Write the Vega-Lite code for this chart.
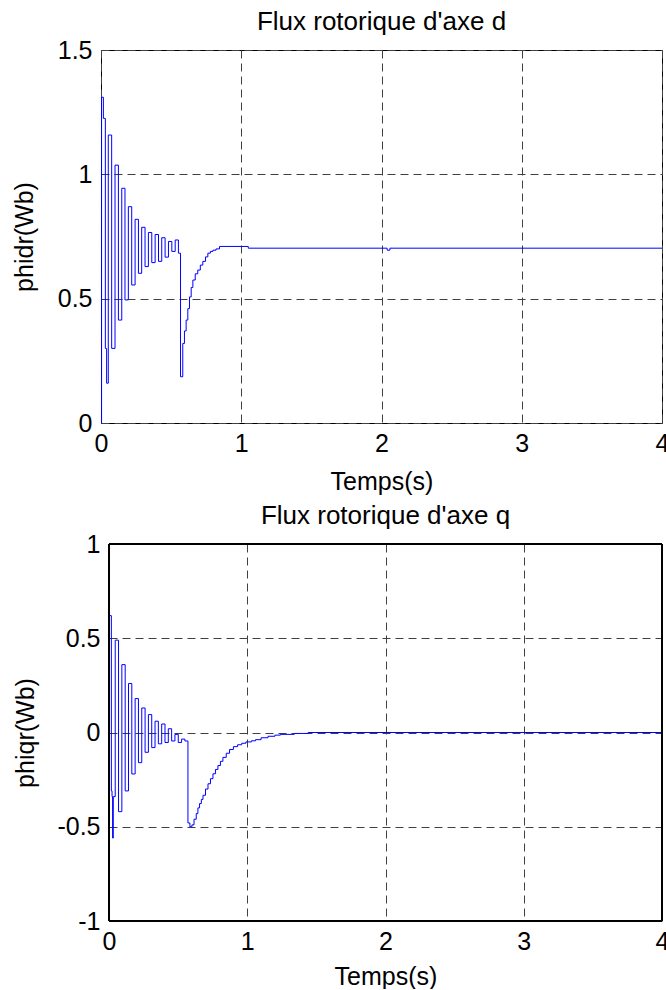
{
  "$schema": "https://vega.github.io/schema/vega-lite/v6.json",
  "background": "white",
  "padding": {"left": 11, "top": 8, "right": 0, "bottom": 0},
  "config": {
    "font": "Liberation Sans",
    "view": {"stroke": "black", "strokeWidth": 1},
    "axis": {
      "labelFont": "Liberation Sans", "labelFontSize": 25, "labelColor": "black",
      "titleFont": "Liberation Sans", "titleFontSize": 25, "titleFontWeight": "normal", "titleColor": "black",
      "ticks": false, "domain": false, "labelFlush": false,
      "gridColor": "#404040", "gridDash": [8, 5], "gridOpacity": 1, "gridWidth": 1
    },
    "title": {"font": "Liberation Sans", "fontSize": 26, "fontWeight": "normal", "color": "black"}
  },
  "datasets": {
    "d": [
      {"t": 0, "v": 0}, {"t": 0.004, "v": 1.31}, {"t": 0.017, "v": 1.225}, {"t": 0.031, "v": 0.3}, {"t": 0.04, "v": 0.16},
      {"t": 0.052, "v": 1.158}, {"t": 0.076, "v": 0.3}, {"t": 0.1, "v": 1.037}, {"t": 0.124, "v": 0.414},
      {"t": 0.148, "v": 0.944}, {"t": 0.171, "v": 0.495}, {"t": 0.195, "v": 0.87}, {"t": 0.219, "v": 0.555},
      {"t": 0.243, "v": 0.819}, {"t": 0.267, "v": 0.602}, {"t": 0.29, "v": 0.787}, {"t": 0.314, "v": 0.629},
      {"t": 0.338, "v": 0.766}, {"t": 0.362, "v": 0.645}, {"t": 0.386, "v": 0.758}, {"t": 0.41, "v": 0.65},
      {"t": 0.433, "v": 0.745}, {"t": 0.457, "v": 0.667}, {"t": 0.481, "v": 0.73}, {"t": 0.505, "v": 0.69},
      {"t": 0.529, "v": 0.736}, {"t": 0.552, "v": 0.683}, {"t": 0.567, "v": 0.186}, {"t": 0.583, "v": 0.32},
      {"t": 0.595, "v": 0.37}, {"t": 0.607, "v": 0.414}, {"t": 0.619, "v": 0.46}, {"t": 0.631, "v": 0.507},
      {"t": 0.643, "v": 0.545}, {"t": 0.655, "v": 0.575}, {"t": 0.672, "v": 0.6}, {"t": 0.69, "v": 0.615},
      {"t": 0.708, "v": 0.635}, {"t": 0.726, "v": 0.65}, {"t": 0.745, "v": 0.668}, {"t": 0.762, "v": 0.683},
      {"t": 0.78, "v": 0.69}, {"t": 0.798, "v": 0.695}, {"t": 0.82, "v": 0.7}, {"t": 0.845, "v": 0.71},
      {"t": 1.05, "v": 0.703}, {"t": 2.04, "v": 0.695}, {"t": 2.06, "v": 0.703}, {"t": 4.0, "v": 0.703}
    ],
    "q": [
      {"t": 0, "v": 0}, {"t": 0.002, "v": 0.62}, {"t": 0.017, "v": -0.31}, {"t": 0.022, "v": -0.34},
      {"t": 0.026, "v": -0.56}, {"t": 0.031, "v": -0.34}, {"t": 0.045, "v": 0.49}, {"t": 0.069, "v": -0.42},
      {"t": 0.093, "v": 0.36}, {"t": 0.117, "v": -0.31}, {"t": 0.141, "v": 0.26}, {"t": 0.165, "v": -0.22},
      {"t": 0.189, "v": 0.18}, {"t": 0.213, "v": -0.16}, {"t": 0.237, "v": 0.13}, {"t": 0.261, "v": -0.105},
      {"t": 0.285, "v": 0.095}, {"t": 0.309, "v": -0.08}, {"t": 0.333, "v": 0.06}, {"t": 0.357, "v": -0.06},
      {"t": 0.381, "v": 0.045}, {"t": 0.405, "v": -0.053}, {"t": 0.429, "v": 0.02}, {"t": 0.453, "v": -0.045},
      {"t": 0.477, "v": -0.01}, {"t": 0.501, "v": -0.053}, {"t": 0.525, "v": -0.035}, {"t": 0.549, "v": -0.045},
      {"t": 0.571, "v": -0.48}, {"t": 0.585, "v": -0.5}, {"t": 0.6, "v": -0.49}, {"t": 0.615, "v": -0.46},
      {"t": 0.631, "v": -0.43}, {"t": 0.643, "v": -0.4}, {"t": 0.655, "v": -0.377}, {"t": 0.668, "v": -0.355},
      {"t": 0.68, "v": -0.333}, {"t": 0.698, "v": -0.3}, {"t": 0.716, "v": -0.272}, {"t": 0.734, "v": -0.245},
      {"t": 0.752, "v": -0.219}, {"t": 0.77, "v": -0.196}, {"t": 0.788, "v": -0.175}, {"t": 0.806, "v": -0.153},
      {"t": 0.824, "v": -0.132}, {"t": 0.848, "v": -0.11}, {"t": 0.872, "v": -0.09}, {"t": 0.9, "v": -0.075},
      {"t": 0.93, "v": -0.065}, {"t": 0.96, "v": -0.057}, {"t": 0.99, "v": -0.05}, {"t": 1.03, "v": -0.044},
      {"t": 1.06, "v": -0.038}, {"t": 1.1, "v": -0.028}, {"t": 1.15, "v": -0.02}, {"t": 1.2, "v": -0.014},
      {"t": 1.24, "v": -0.01}, {"t": 1.34, "v": -0.005}, {"t": 1.44, "v": 0}, {"t": 4.0, "v": 0}
    ]
  },
  "spacing": 8,
  "vconcat": [
    {
      "width": 561, "height": 373,
      "title": {"text": "Flux rotorique d'axe d", "offset": 3},
      "data": {"name": "d"},
      "mark": {"type": "line", "interpolate": "step-after", "color": "#0000ff", "strokeWidth": 1},
      "encoding": {
        "x": {"field": "t", "type": "quantitative", "scale": {"domain": [0, 4], "nice": false},
              "axis": {"values": [0, 1, 2, 3, 4], "format": "~g", "title": "Temps(s)", "labelPadding": 8, "titlePadding": 13}},
        "y": {"field": "v", "type": "quantitative", "scale": {"domain": [0, 1.5], "nice": false},
              "axis": {"values": [0, 0.5, 1, 1.5], "format": "~g", "title": "phidr(Wb)", "labelPadding": 9, "titlePadding": 20}}
      }
    },
    {
      "width": 561, "height": 377,
      "view": {"stroke": null},
      "title": {"text": "Flux rotorique d'axe q", "offset": 3, "dx": 4},
      "data": {"name": "q"},
      "encoding": {
        "x": {"field": "t", "type": "quantitative", "scale": {"domain": [0, 4], "nice": false, "range": [8, 561]},
              "axis": {"values": [0, 1, 2, 3, 4], "format": "~g", "title": "Temps(s)", "labelPadding": 8, "titlePadding": 10}},
        "y": {"field": "v", "type": "quantitative", "scale": {"domain": [-1, 1], "nice": false},
              "axis": {"values": [-1, -0.5, 0, 0.5, 1], "format": "~g", "labelExpr": "replace(datum.label, '−', '-')", "title": "phiqr(Wb)", "labelPadding": 1, "titlePadding": 18}}
      },
      "layer": [
        {"mark": {"type": "line", "interpolate": "step-after", "color": "#0000ff", "strokeWidth": 1}},
        {
          "mark": {"type": "rect", "filled": false, "stroke": "black", "strokeWidth": 1},
          "encoding": {
            "x": {"datum": 0, "type": "quantitative"},
            "x2": {"datum": 4},
            "y": {"datum": -1, "type": "quantitative"},
            "y2": {"datum": 1}
          }
        }
      ]
    }
  ]
}
